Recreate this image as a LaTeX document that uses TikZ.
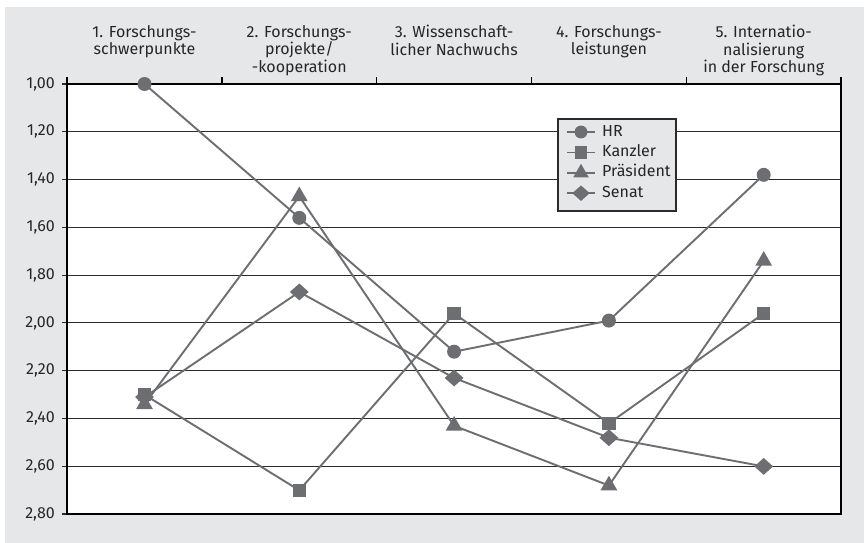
\documentclass[tikz,border=0pt]{standalone}
\usepackage{fontspec}
\setmainfont{Fira Sans}
\usepackage{tikz}
\usetikzlibrary{shapes, arrows, positioning}
\usepackage{xcolor}
\definecolor{chartbg}{HTML}{E6E7E8}
\definecolor{seriesgray}{HTML}{6D6E71}
\definecolor{gridgray}{HTML}{2B2B2D}
\tikzstyle{gridline} = [
    draw=gridgray,
    line width=1.1pt
]
\tikzstyle{axisline} = [
    draw=black,
    line width=1.4pt
]
\tikzstyle{series} = [
    draw=seriesgray,
    line width=1.9pt,
    line join=round
]
\tikzstyle{header} = [
    anchor=north,
    inner sep=0pt,
    align=center,
    font=\fontsize{16}{17.5}\selectfont,
    text=black!85
]
\tikzstyle{ylabel} = [
    anchor=east,
    inner sep=0pt,
    font=\fontsize{16}{17.5}\selectfont,
    text=black!85
]
\tikzstyle{markcircle} = [
    circle,
    fill=seriesgray,
    inner sep=0pt,
    minimum size=14pt
]
\tikzstyle{marksquare} = [
    rectangle,
    fill=seriesgray,
    inner sep=0pt,
    minimum size=13.5pt
]
\tikzstyle{marktriangle} = [
    regular polygon,
    regular polygon sides=3,
    fill=seriesgray,
    inner sep=0pt,
    minimum size=19.5pt
]
\tikzstyle{markdiamond} = [
    diamond,
    fill=seriesgray,
    inner sep=0pt,
    minimum width=19pt,
    minimum height=17pt
]
\tikzstyle{legendbox} = [
    rectangle,
    draw=gridgray,
    fill=chartbg,
    line width=1.1pt,
    minimum width=118pt,
    minimum height=92pt
]
\tikzstyle{legendtext} = [
    anchor=west,
    inner sep=0pt,
    text height=11pt,
    text depth=3pt,
    font=\fontsize{16}{17.5}\selectfont,
    text=black!85
]

\begin{document}
\begin{tikzpicture}[x=1pt, y=-1pt]
    \useasboundingbox (0,0) rectangle (864,543);
    % Hintergrund
    \fill[chartbg] (5,7) rectangle (864,543);
    \fill[white] (67,84) rectangle (841,514);

    % Raster und Skala
    \foreach \i in {0,...,9} {
        \pgfmathsetmacro{\wert}{1+0.2*\i}
        \draw[gridline] (62,84+47.78*\i) -- (841,84+47.78*\i);
        \node[ylabel] (skala\i) at (55,84+47.78*\i)
            {\pgfmathprintnumber[fixed,fixed zerofill,precision=2,use comma,assume math mode=true]{\wert}};
    }
    \foreach \k in {1,...,4}
        \draw[axisline] (67+154.8*\k,77) -- (67+154.8*\k,84);
    \draw[axisline] (67,77) -- (67,514) -- (841,514) -- (841,77);
    \draw[axisline] (67,84) -- (841,84);

    % Kategorien
    \foreach \i/\txt in {1/{1. Forschungs-\\schwerpunkte},
                         2/{2. Forschungs-\\projekte/\\-kooperation},
                         3/{3. Wissenschaft-\\licher Nachwuchs},
                         4/{4. Forschungs-\\leistungen},
                         5/{5. Internatio-\\nalisierung\\in der Forschung}}
        \node[header] (kat\i) at (154.8*\i-10.3,25) {\txt};

    % Datenreihen
    \begin{scope}[x=154.8pt, y=-239pt, xshift=-10.3pt, yshift=155pt]
        \coordinate (hr1) at (1,1.00);
        \coordinate (hr2) at (2,1.56);
        \coordinate (hr3) at (3,2.12);
        \coordinate (hr4) at (4,1.99);
        \coordinate (hr5) at (5,1.38);
        \coordinate (kanzler1) at (1,2.30);
        \coordinate (kanzler2) at (2,2.70);
        \coordinate (kanzler3) at (3,1.96);
        \coordinate (kanzler4) at (4,2.42);
        \coordinate (kanzler5) at (5,1.96);
        \coordinate (praesident1) at (1,2.34);
        \coordinate (praesident2) at (2,1.47);
        \coordinate (praesident3) at (3,2.43);
        \coordinate (praesident4) at (4,2.68);
        \coordinate (praesident5) at (5,1.74);
        \coordinate (senat1) at (1,2.31);
        \coordinate (senat2) at (2,1.87);
        \coordinate (senat3) at (3,2.23);
        \coordinate (senat4) at (4,2.48);
        \coordinate (senat5) at (5,2.60);
    \end{scope}

    \draw[series] (hr1) -- (hr2) -- (hr3) -- (hr4) -- (hr5);
    \draw[series] (kanzler1) -- (kanzler2) -- (kanzler3) -- (kanzler4) -- (kanzler5);
    \draw[series] (praesident1) -- (praesident2) -- (praesident3) -- (praesident4) -- (praesident5);
    \draw[series] (senat1) -- (senat2) -- (senat3) -- (senat4) -- (senat5);

    \foreach \k in {1,...,5} {
        \node[markcircle] (hrpunkt\k) at (hr\k) {};
        \node[marksquare] (kanzlerpunkt\k) at (kanzler\k) {};
        \node[marktriangle] (praesidentpunkt\k) at (praesident\k) {};
        \node[markdiamond] (senatpunkt\k) at (senat\k) {};
    }

    % Legende
    \node[legendbox] (legende) at (617,165) {};
    \node[legendtext] (lhr) at (602,132) {HR};
    \node[legendtext, below=6pt of lhr.south west, anchor=north west] (lkanzler) {Kanzler};
    \node[legendtext, below=6pt of lkanzler.south west, anchor=north west] (lpraesident) {Präsident};
    \node[legendtext, below=6pt of lpraesident.south west, anchor=north west] (lsenat) {Senat};
    \foreach \n/\m in {lhr/markcircle, lkanzler/marksquare, lpraesident/marktriangle, lsenat/markdiamond} {
        \draw[series, line width=1.5pt] ([xshift=-35pt]\n.west) -- ([xshift=-7pt]\n.west);
        \node[\m, scale=0.92] (\n zeichen) at ([xshift=-21pt]\n.west) {};
    }
\end{tikzpicture}
\end{document}
